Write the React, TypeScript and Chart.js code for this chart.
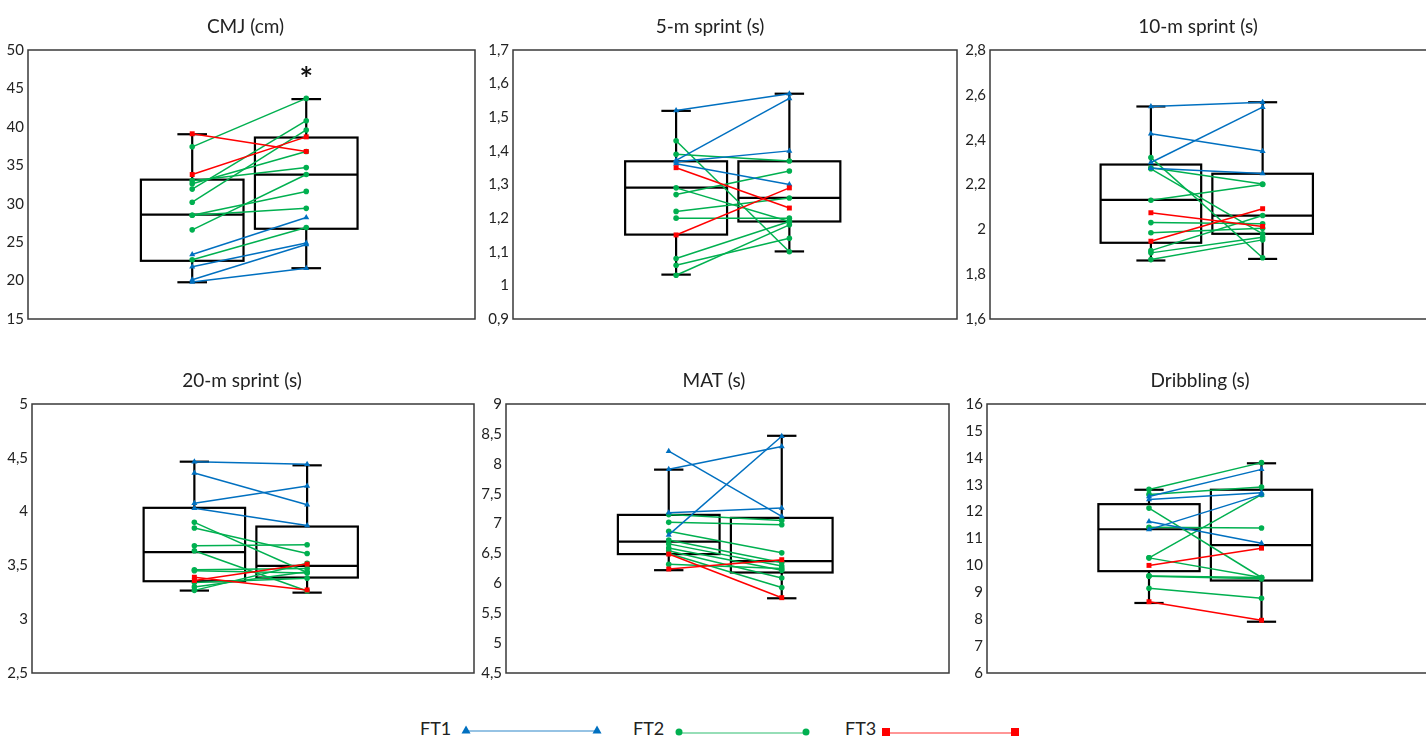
import React, { useEffect, useRef } from 'react';
import { Chart, registerables } from 'chart.js';

Chart.register(...registerables);

// ---------- DATA ----------
const timepoints = ['Pre', 'Post'];
const groupNames = ['FT1', 'FT2', 'FT3'];
const groupColors = ['#0070C0', '#00B050', '#FF0000'];
const groupMarkers = ['triangle', 'circle', 'rect'];
// group of every athlete (same order in all value arrays)
const athleteGroups = [0, 0, 0, 0, 1, 1, 1, 1, 1, 1, 1, 1, 1, 2, 2];

const panelTitles = ['CMJ (cm)', '5-m sprint (s)', '10-m sprint (s)', '20-m sprint (s)', 'MAT (s)', 'Dribbling (s)'];

// CMJ
const cmjPre = [23.4, 21.8, 20.1, 19.8, 37.4, 33.0, 32.6, 31.9, 30.2, 28.5, 28.5, 26.6, 22.7, 39.1, 33.8];
const cmjPost = [28.2, 24.9, 24.7, 21.6, 43.7, 34.7, 36.8, 40.8, 39.6, 31.6, 29.4, 33.8, 26.9, 36.8, 38.7];
const cmjBoxPre = [19.78, 22.57, 28.57, 33.13, 39.04];
const cmjBoxPost = [21.61, 26.74, 33.78, 38.61, 43.61];
const cmjAxis = [15, 50, 5];
const cmjSignificance = ['', '*'];

// 5-m sprint
const s5Pre = [1.52, 1.372, 1.368, 1.362, 1.43, 1.39, 1.29, 1.27, 1.22, 1.2, 1.08, 1.06, 1.03, 1.35, 1.15];
const s5Post = [1.57, 1.556, 1.4, 1.3, 1.1, 1.37, 1.19, 1.34, 1.26, 1.2, 1.19, 1.14, 1.18, 1.23, 1.29];
const s5BoxPre = [1.032, 1.151, 1.291, 1.369, 1.519];
const s5BoxPost = [1.101, 1.19, 1.26, 1.369, 1.57];
const s5Axis = [0.9, 1.7, 0.1];

// 10-m sprint
const s10Pre = [2.548, 2.426, 2.298, 2.272, 2.32, 2.275, 2.27, 2.13, 2.03, 1.985, 1.905, 1.895, 1.865, 2.074, 1.947];
const s10Post = [2.567, 2.348, 2.545, 2.249, 1.873, 2.202, 1.98, 2.2, 2.025, 2.005, 2.062, 1.965, 1.953, 2.013, 2.092];
const s10BoxPre = [1.861, 1.94, 2.131, 2.289, 2.548];
const s10BoxPost = [1.868, 1.98, 2.061, 2.248, 2.567];
const s10Axis = [1.6, 2.8, 0.2];

// 20-m sprint
const s20Pre = [4.464, 4.358, 4.078, 4.032, 3.9, 3.848, 3.683, 3.636, 3.459, 3.45, 3.34, 3.3, 3.268, 3.39, 3.36];
const s20Post = [4.44, 4.063, 4.237, 3.87, 3.434, 3.611, 3.692, 3.262, 3.471, 3.43, 3.381, 3.44, 3.52, 3.272, 3.512];
const s20BoxPre = [3.266, 3.353, 3.624, 4.035, 4.464];
const s20BoxPost = [3.247, 3.387, 3.496, 3.861, 4.43];
const s20Axis = [2.5, 5, 0.5];

// MAT
const matPre = [8.21, 7.91, 7.18, 6.81, 7.15, 7.02, 6.87, 6.725, 6.66, 6.59, 6.545, 6.5, 6.32, 6.49, 6.24];
const matPost = [7.12, 8.29, 7.26, 8.46, 7.05, 6.98, 6.51, 6.35, 6.29, 6.22, 6.09, 5.93, 6.25, 5.76, 6.395];
const matBoxPre = [6.22, 6.489, 6.697, 7.145, 7.902];
const matBoxPost = [5.75, 6.181, 6.372, 7.095, 8.468];
const matAxis = [4.5, 9, 0.5];

// Dribbling
const dribPre = [12.56, 11.63, 11.33, 12.45, 12.825, 12.64, 12.13, 11.42, 10.28, 10.28, 9.61, 9.15, 9.6, 10.0, 8.65];
const dribPost = [13.57, 10.82, 12.63, 12.7, 13.82, 12.91, 9.55, 11.39, 12.63, 9.55, 9.55, 8.78, 9.5, 10.64, 7.96];
const dribBoxPre = [8.603, 9.786, 11.343, 12.277, 12.812];
const dribBoxPost = [7.906, 9.437, 10.757, 12.812, 13.796];
const dribAxis = [6, 16, 1];

// ---------- LAYOUT (positions / styles) ----------
const FONT = 'Lato, "Open Sans", sans-serif';
const CANVAS_H = 332;

type PanelDef = {
  title: string; pre: number[]; post: number[]; boxes: number[][]; axis: number[]; marks?: string[];
  left: number; top: number; chartLeft: number; chartRight: number; titleX: number;
};

const panels: PanelDef[] = [
  { title: panelTitles[0], pre: cmjPre, post: cmjPost, boxes: [cmjBoxPre, cmjBoxPost], axis: cmjAxis, marks: cmjSignificance,
    left: 0, top: 0, chartLeft: 28, chartRight: 475, titleX: 245.5 },
  { title: panelTitles[1], pre: s5Pre, post: s5Post, boxes: [s5BoxPre, s5BoxPost], axis: s5Axis,
    left: 480, top: 0, chartLeft: 513, chartRight: 957, titleX: 710 },
  { title: panelTitles[2], pre: s10Pre, post: s10Post, boxes: [s10BoxPre, s10BoxPost], axis: s10Axis,
    left: 958, top: 0, chartLeft: 990, chartRight: 1428, titleX: 1198 },
  { title: panelTitles[3], pre: s20Pre, post: s20Post, boxes: [s20BoxPre, s20BoxPost], axis: s20Axis,
    left: 0, top: 354, chartLeft: 32, chartRight: 474, titleX: 242 },
  { title: panelTitles[4], pre: matPre, post: matPost, boxes: [matBoxPre, matBoxPost], axis: matAxis,
    left: 478, top: 354, chartLeft: 506, chartRight: 949, titleX: 714 },
  { title: panelTitles[5], pre: dribPre, post: dribPost, boxes: [dribBoxPre, dribBoxPost], axis: dribAxis,
    left: 958, top: 354, chartLeft: 987, chartRight: 1428, titleX: 1200 },
];

const boxPlugin = {
  id: 'boxWhisker',
  beforeDatasetsDraw(chart: any, _args: any, opts: any) {
    const { ctx } = chart;
    const x = chart.scales.x;
    const y = chart.scales.y;
    ctx.save();
    ctx.strokeStyle = '#000';
    ctx.lineWidth = 2.2;
    ctx.lineCap = 'butt';
    const seg = (x1: number, y1: number, x2: number, y2: number) => {
      ctx.beginPath(); ctx.moveTo(x1, y1); ctx.lineTo(x2, y2); ctx.stroke();
    };
    (opts.boxes || []).forEach((b: number[], i: number) => {
      const cx = x.getPixelForValue(i);
      const hw = x.getPixelForValue(i + opts.halfWidth) - cx;
      const cw = x.getPixelForValue(i + opts.capHalfWidth) - cx;
      const [mn, q1, md, q3, mx] = b.map((v) => y.getPixelForValue(v));
      ctx.strokeRect(cx - hw, q3, 2 * hw, q1 - q3);
      seg(cx - hw, md, cx + hw, md);
      seg(cx, q3, cx, mx);
      seg(cx, q1, cx, mn);
      seg(cx - cw, mx, cx + cw, mx);
      seg(cx - cw, mn, cx + cw, mn);
    });
    ctx.restore();
  },
  afterDraw(chart: any, _args: any, opts: any) {
    const { ctx, chartArea } = chart;
    const x = chart.scales.x;
    const y = chart.scales.y;
    ctx.save();
    ctx.strokeStyle = '#3a3a3a';
    ctx.lineWidth = 1.5;
    ctx.strokeRect(chartArea.left, chartArea.top, chartArea.right - chartArea.left, chartArea.bottom - chartArea.top);
    // panel title
    ctx.fillStyle = '#222';
    ctx.font = `19px ${FONT}`;
    ctx.textAlign = 'center';
    ctx.textBaseline = 'middle';
    ctx.fillText(opts.title, opts.titleX, opts.titleY);
    (opts.marks || []).forEach((m: string, i: number) => {
      if (!m) return;
      const b = opts.boxes[i];
      ctx.fillStyle = '#111';
      ctx.font = `bold 32px ${FONT}`;
      ctx.textAlign = 'center';
      ctx.textBaseline = 'middle';
      ctx.fillText(m, x.getPixelForValue(i), y.getPixelForValue(b[4]) - 18);
    });
    ctx.restore();
  },
};

const fmt = (v: number) => String(parseFloat(Number(v).toFixed(2))).replace('.', ',');

function buildConfig(p: PanelDef): any {
  const datasets = p.pre.map((v, i) => {
    const g = athleteGroups[i];
    return {
      label: groupNames[g],
      data: [
        { x: timepoints.indexOf('Pre'), y: v },
        { x: timepoints.indexOf('Post'), y: p.post[i] },
      ],
      borderColor: groupColors[g],
      backgroundColor: groupColors[g],
      pointStyle: groupMarkers[g],
      pointRadius: g === 1 ? 2.8 : 3.5,
      pointBorderWidth: 0,
      borderWidth: 1.5,
      order: g === 2 ? 0 : g === 0 ? 1 : 2,
    };
  });
  const axisWidth = p.chartLeft - p.left;
  return {
    type: 'line',
    data: { datasets },
    plugins: [boxPlugin],
    options: {
      animation: false,
      responsive: false,
      devicePixelRatio: 1,
      events: [],
      layout: { padding: { top: 50, bottom: 0, left: 0, right: 4 } },
      scales: {
        x: { type: 'linear', min: -1.44, max: 2.48, display: false },
        y: {
          type: 'linear',
          min: p.axis[0],
          max: p.axis[1],
          grid: { display: false, drawTicks: false },
          border: { display: false },
          ticks: {
            stepSize: p.axis[2],
            padding: 4,
            color: '#222',
            font: { family: FONT, size: 15 },
            callback: (v: number) => fmt(v),
          },
          afterFit: (scale: any) => { scale.width = axisWidth; },
        },
      },
      plugins: {
        legend: { display: false },
        tooltip: { enabled: false },
        title: { display: false },
        boxWhisker: {
          boxes: p.boxes, halfWidth: 0.45, capHalfWidth: 0.13, marks: p.marks,
          title: p.title, titleX: p.titleX - p.left, titleY: 27,
        },
      },
    },
  };
}

const legendLayout = [
  { text: 420, x1: 466, x2: 597, y: 31 },
  { text: 633, x1: 679, x2: 806, y: 33 },
  { text: 845, x1: 886, x2: 1015, y: 33 },
];

function Marker({ kind, cx, cy, color }: { kind: string; cx: number; cy: number; color: string }) {
  if (kind === 'triangle') {
    return <polygon points={`${cx - 4.5},${cy + 3.5} ${cx + 4.5},${cy + 3.5} ${cx},${cy - 4.5}`} fill={color} />;
  }
  if (kind === 'circle') return <circle cx={cx} cy={cy} r={3.5} fill={color} />;
  return <rect x={cx - 4} y={cy - 4} width={8} height={8} fill={color} />;
}

export default function App() {
  const refs = useRef<(HTMLCanvasElement | null)[]>([]);

  useEffect(() => {
    const charts = panels.map((p, i) => new Chart(refs.current[i] as HTMLCanvasElement, buildConfig(p)));
    return () => charts.forEach((c) => c.destroy());
  }, []);

  return (
    <div style={{ position: 'absolute', left: 0, top: 0, width: 1426, height: 737, overflow: 'hidden', background: '#fff' }}>
      {panels.map((p, i) => {
        const w = p.chartRight - p.left + 4;
        return (
          <canvas
            key={i}
            ref={(el) => { refs.current[i] = el; }}
            width={w}
            height={CANVAS_H}
            style={{ position: 'absolute', left: p.left, top: p.top, width: w, height: CANVAS_H }}
          />
        );
      })}
      <svg width={1426} height={37} style={{ position: 'absolute', left: 0, top: 700 }}>
        {groupNames.map((g, i) => {
          const l = legendLayout[i];
          return (
            <g key={g}>
              <text x={l.text} y={30} dominantBaseline="middle" fontFamily={FONT} fontSize={18} fill="#222">{g}</text>
              <line x1={l.x1} y1={l.y} x2={l.x2} y2={l.y} stroke={groupColors[i]} strokeWidth={1.3} strokeOpacity={0.55} />
              <Marker kind={groupMarkers[i]} cx={l.x1} cy={l.y - 1} color={groupColors[i]} />
              <Marker kind={groupMarkers[i]} cx={l.x2} cy={l.y - 1} color={groupColors[i]} />
            </g>
          );
        })}
      </svg>
    </div>
  );
}
